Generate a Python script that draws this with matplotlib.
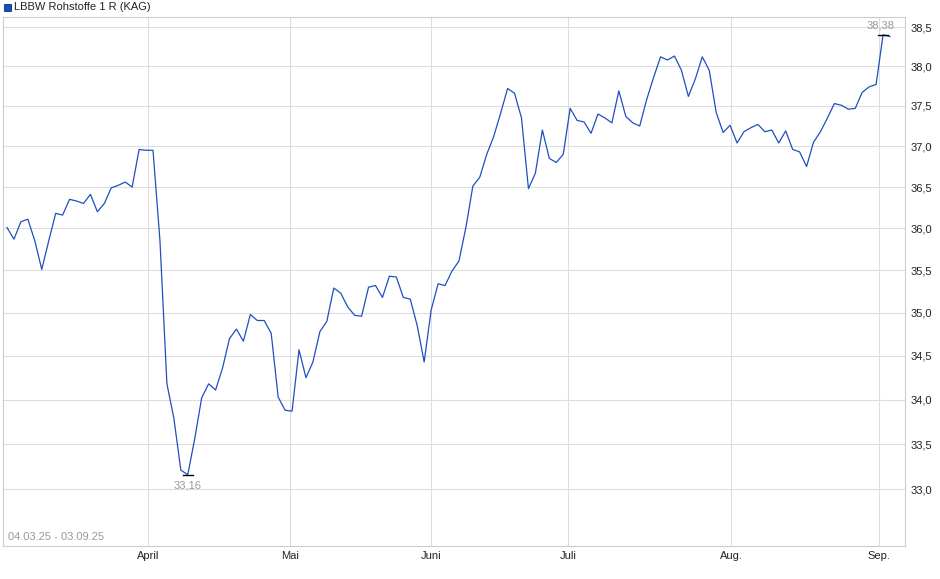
import matplotlib
matplotlib.use("Agg")
import matplotlib.pyplot as plt
from matplotlib.ticker import FixedLocator, NullLocator
import numpy as np

plt.rcParams['font.family'] = ['Liberation Sans', 'DejaVu Sans']

values = [36.01,35.87,36.08,36.11,35.85,35.51,35.85,36.18,36.16,36.35,36.33,36.30,36.41,36.20,36.30,
          36.49,36.52,36.56,36.50,36.96,36.95,36.95,35.85,34.18,33.79,33.21,33.16,33.56,34.02,34.18,
          34.11,34.36,34.70,34.81,34.67,34.98,34.91,34.91,34.76,34.03,33.88,33.87,34.57,34.25,34.43,
          34.78,34.90,35.29,35.23,35.07,34.97,34.96,35.30,35.32,35.18,35.43,35.42,35.18,35.16,34.85,
          34.43,35.03,35.34,35.32,35.49,35.61,36.01,36.51,36.62,36.90,37.12,37.41,37.72,37.66,37.35,
          36.48,36.67,37.20,36.85,36.80,36.90,37.47,37.32,37.30,37.16,37.40,37.35,37.29,37.69,37.37,
          37.29,37.25,37.58,37.86,38.12,38.08,38.13,37.95,37.62,37.84,38.12,37.95,37.42,37.17,37.26,
          37.04,37.18,37.23,37.27,37.18,37.20,37.04,37.19,36.96,36.93,36.75,37.05,37.18,37.35,37.53,
          37.51,37.46,37.47,37.67,37.74,37.77,38.40,38.38]
month_labels = ["April", "Mai", "Juni", "Juli", "Aug.", "Sep."]
month_px = [148, 290, 431, 568, 731, 879]
y_ticks = [33.0, 33.5, 34.0, 34.5, 35.0, 35.5, 36.0, 36.5, 37.0, 37.5, 38.0, 38.5]
series_name = "LBBW Rohstoffe 1 R (KAG)"
period = "04.03.25 - 03.09.25"

n = len(values)
x = np.arange(n)
W, H = 940, 579
ax_l, ax_r, ax_b, ax_t = 3, 905, 546, 17
fig = plt.figure(figsize=(W/100, H/100), dpi=100)
ax = fig.add_axes([ax_l/W, 1-ax_b/H, (ax_r-ax_l)/W, (ax_b-ax_t)/H])
px_per = (890-7)/(n-1)
ax.set_xlim((ax_l-7)/px_per, (ax_r-7)/px_per)
ax.set_yscale('log')
ax.set_ylim(32.38, 38.63)
ax.yaxis.set_major_locator(FixedLocator(y_ticks))
ax.yaxis.set_minor_locator(NullLocator())
ax.set_yticklabels([f"{v:.1f}".replace('.', ',') for v in y_ticks])
ax.yaxis.tick_right()
ax.set_xticks([(p-7)/px_per for p in month_px])
ax.set_xticklabels(month_labels)
ax.tick_params(axis='both', length=0, labelsize=8, colors='#222222')
ax.tick_params(axis='y', pad=4)
ax.grid(True, color='#dddddd', linewidth=0.8)
for s in ax.spines.values():
    s.set_color('#cccccc')
ax.plot(x, values, color='#1f4fbf', linewidth=0.9)

imin = int(np.argmin(values)); imax = int(np.argmax(values))
for i in (imin, imax):
    ax.plot([i-0.7, i+0.7], [values[i]]*2, color='black', linewidth=1)
ax.annotate(f"{values[imin]:.2f}".replace('.', ','), (imin, values[imin]), xytext=(0, -4),
            textcoords='offset points', ha='center', va='top', fontsize=8, color='#999999')
ax.annotate(f"{values[-1]:.2f}".replace('.', ','), (imax, values[imax]), xytext=(-2, 3),
            textcoords='offset points', ha='center', va='bottom', fontsize=8, color='#999999')
ax.text(0.005, 0.012, period, transform=ax.transAxes, fontsize=8, color='#999999')

fig.patches.append(plt.Rectangle((4/W, 1-11/H), 7/W, 7/H, transform=fig.transFigure,
                                 facecolor='#1f4fbf', edgecolor='#0a2a7a', linewidth=0.6))
fig.text(14/W, 1-7.5/H, series_name, fontsize=8, va='center', color='#222222')
fig.savefig("out.png", dpi=100)
